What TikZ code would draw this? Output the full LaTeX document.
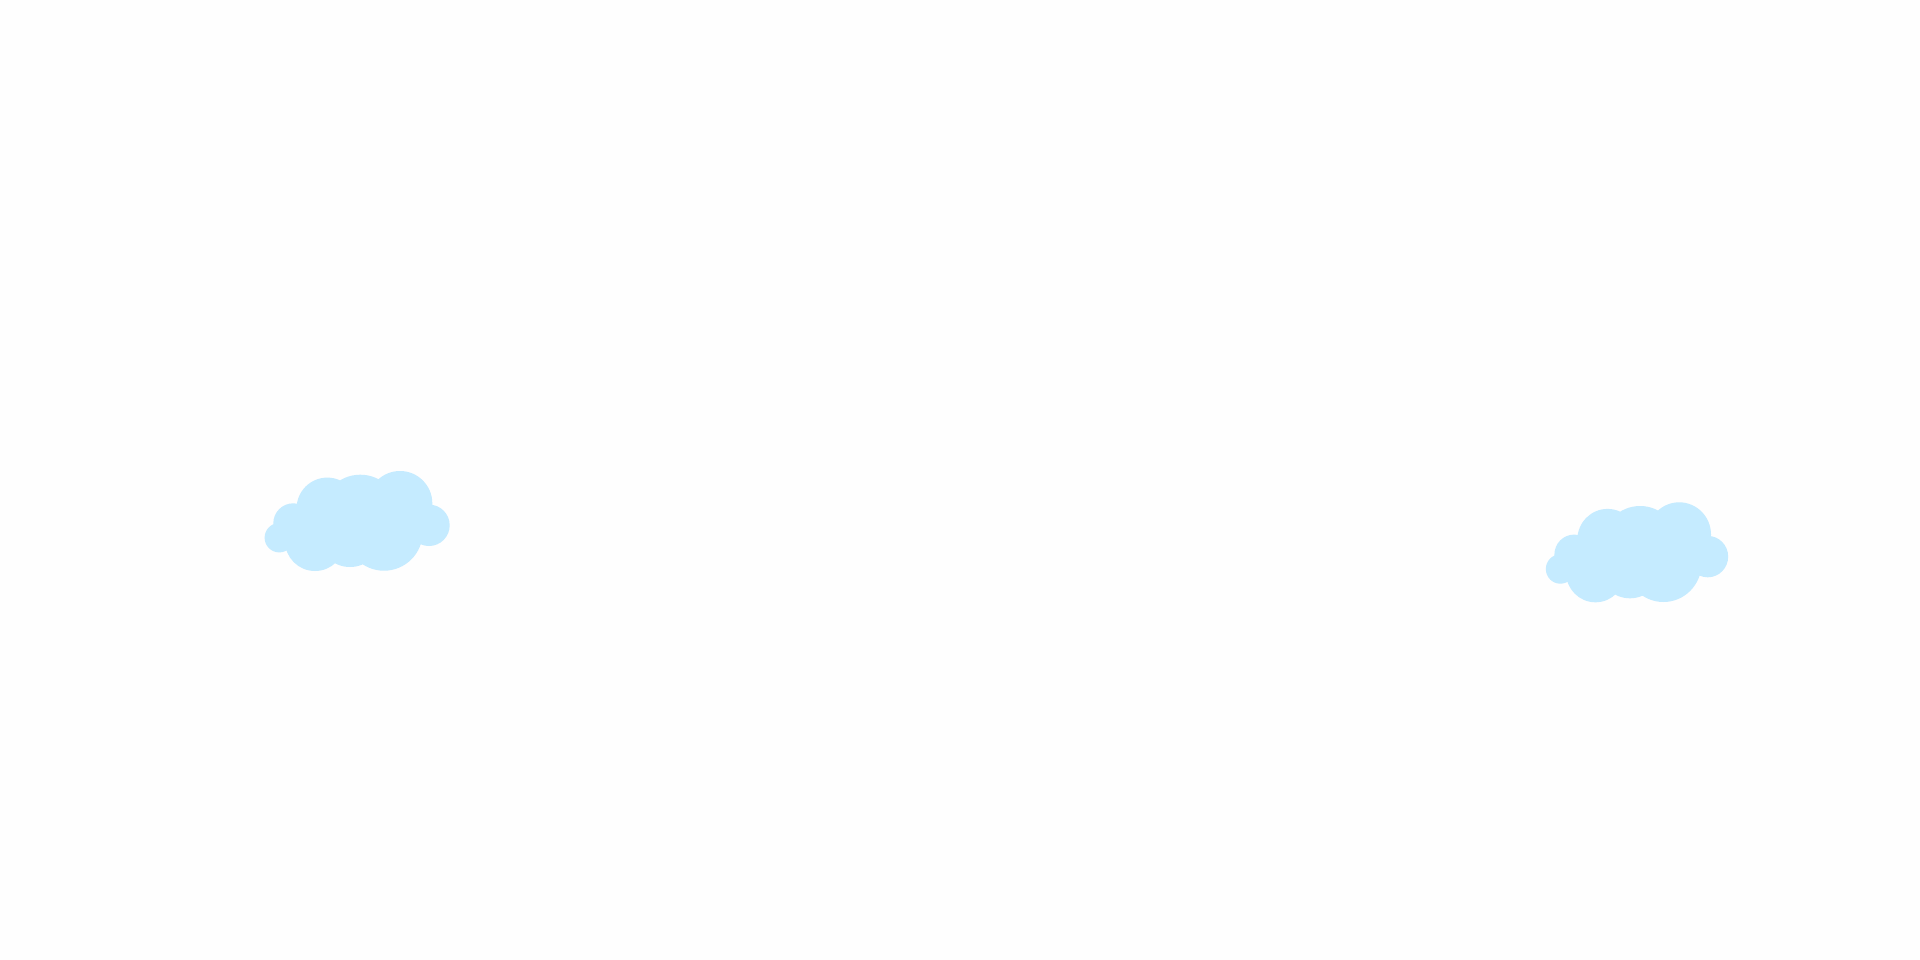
\documentclass[tikz,border=0pt]{standalone}
\usepackage{xcolor}
\definecolor{cloudblue}{HTML}{C5EBFF}
\definecolor{paper}{HTML}{FEFEFE}
\tikzset{
  cloudpuff/.style={fill=cloudblue, draw=none},
  cloud shape/.pic={
    % puffs given as x/y/r, measured from the small left puff
    \fill[cloudpuff]
      \foreach \px/\py/\pr in {
        0/0/14.7, 14/-14.4/20, 48/-29.4/30.7, 81/-24/39,
        120.7/-34.4/32.3, 149.7/-12.4/20.7, 35.7/3.3/30,
        70.7/-2.7/32, 104.7/-5.7/38.7%
      }{ (\px,\py) circle (\pr) };
  }
}
\begin{document}
\begin{tikzpicture}[x=0.02cm, y=-0.02cm]

\fill[paper] (0,0) rectangle (1920,960);
\useasboundingbox (0,0) rectangle (1920,960);

% --- Left cloud ---
\pic (cloudleft) at (279.3,537.7) {cloud shape};

% --- Right cloud ---
\pic[xscale=0.985] (cloudright) at (1560.3,569) {cloud shape};

\end{tikzpicture}
\end{document}
